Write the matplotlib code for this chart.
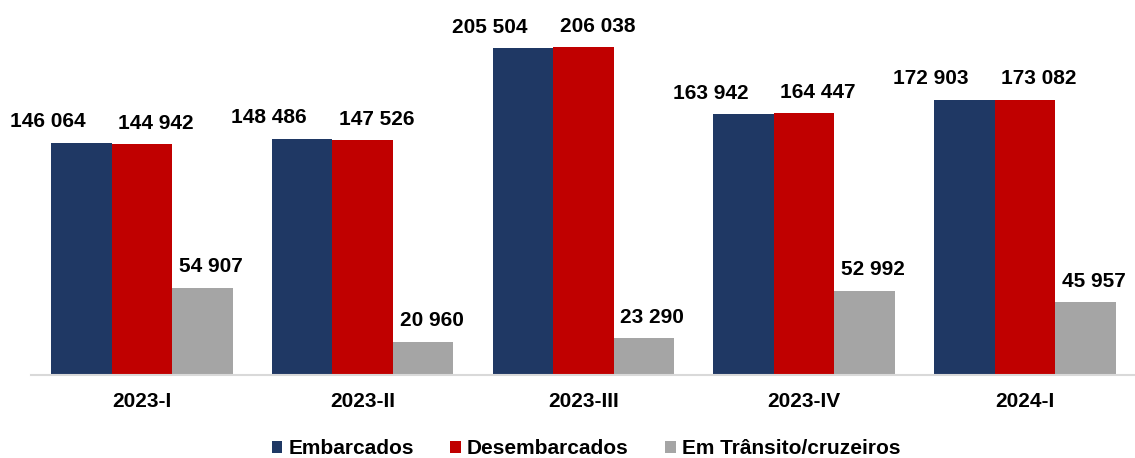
import numpy as np
import matplotlib.pyplot as plt

plt.rcParams['font.family'] = ['Liberation Sans', 'DejaVu Sans']
plt.rcParams['font.weight'] = 'bold'

periodos = ['2023-I', '2023-II', '2023-III', '2023-IV', '2024-I']
embarcados = [146064, 148486, 205504, 163942, 172903]
desembarcados = [144942, 147526, 206038, 164447, 173082]
transito = [54907, 20960, 23290, 52992, 45957]

series = [
    ('Embarcados', embarcados, '#1F3864'),
    ('Desembarcados', desembarcados, '#C00000'),
    ('Em Trânsito/cruzeiros', transito, '#A5A5A5'),
]


def fmt(v):
    return f'{v:,}'.replace(',', ' ')


fig = plt.figure(figsize=(11.35, 4.58), dpi=100)
ax = fig.add_axes([31 / 1135, 1 - 375 / 458, 1104 / 1135, 375 / 458])

x = np.arange(len(periodos))
w = 0.274
# deslocamento horizontal dos rótulos (pontos), como no original
offsets = [-24, 10, 6]

for i, (nome, vals, cor) in enumerate(series):
    pos = x + (i - 1) * w
    ax.bar(pos, vals, w, color=cor, label=nome, linewidth=0)
    for xp, v in zip(pos, vals):
        ax.annotate(fmt(v), (xp, v), xytext=(offsets[i], 15),
                    textcoords='offset points', ha='center', va='center',
                    fontsize=15, fontweight='bold', color='black')

ax.set_xlim(-0.502, 4.498)
ax.set_ylim(0, 235600)
ax.set_xticks(x)
ax.set_xticklabels(periodos, fontsize=15, fontweight='bold')
ax.tick_params(axis='x', length=0, pad=12)
ax.set_yticks([])
for s in ['top', 'right', 'left']:
    ax.spines[s].set_visible(False)
ax.spines['bottom'].set_color('#D9D9D9')
ax.spines['bottom'].set_linewidth(1.5)

leg = fig.legend(loc='center', bbox_to_anchor=(586 / 1135, 1 - 449 / 458), ncol=3,
                 frameon=False, fontsize=15, handlelength=0.5, handleheight=0.5,
                 handletextpad=0.3, columnspacing=1.75)

fig.savefig('out.png', dpi=100)
